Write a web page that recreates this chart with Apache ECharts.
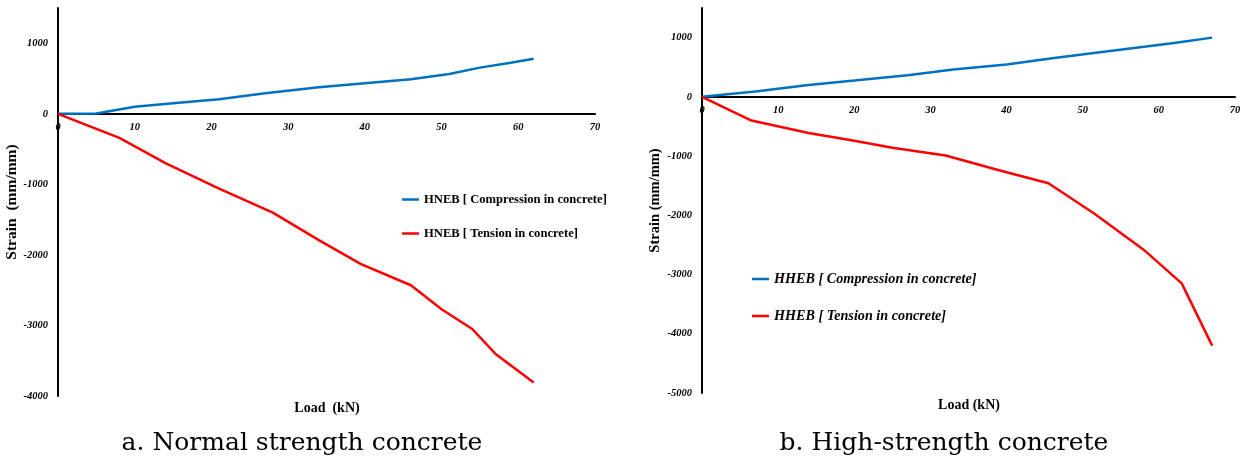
<!DOCTYPE html>
<html>
<head>
<meta charset="utf-8">
<script src="https://cdn.jsdelivr.net/npm/echarts@6/dist/echarts.min.js"></script>
<style>html,body{margin:0;padding:0;background:#fff}#c{width:1243px;height:461px}</style>
</head>
<body>
<div id="c"></div>
<script>
// Load (kN) vs Strain (mm/mm)
const normalCompression = [[0,0],[5,5],[10,100],[15,150],[21,205],[27,290],[34,375],[40,435],[46,490],[51,565],[55,655],[59,725],[62,780]];
const normalTension = [[0,0],[8,-340],[14,-700],[21,-1060],[28,-1400],[34,-1790],[39.5,-2130],[46,-2430],[50,-2770],[54,-3050],[57,-3400],[62,-3810]];
const highCompression = [[0,0],[7,90],[14,200],[20,275],[27,365],[33,460],[40,545],[46,650],[52,750],[57,830],[62,910],[67,1000]];
const highTension = [[0,0],[6.5,-400],[14,-610],[20,-740],[25,-860],[32,-990],[39,-1240],[45.5,-1460],[51.5,-1970],[58,-2580],[63,-3150],[67,-4200]];
const xTicks = [0,10,20,30,40,50,60,70];
const yTicksNormal = [-4000,-3000,-2000,-1000,0,1000];
const yTicksHigh = [-5000,-4000,-3000,-2000,-1000,0,1000];
const names = {
  nc: 'HNEB [ Compression in concrete]',
  nt: 'HNEB [ Tension in concrete]',
  hc: 'HHEB [ Compression in concrete]',
  ht: 'HHEB [ Tension in concrete]'
};
const subtitles = ['a. Normal strength concrete', 'b. High-strength concrete'];
const xNames = ['Load  (kN)', 'Load (kN)'];
const yNames = ['Strain  (mm/mm)', 'Strain (mm/mm)'];

const serif = 'Liberation Serif';
const blue = '#0070C0', red = '#FF0000';
const tickLabel = {fontFamily: serif, fontStyle: 'italic', fontWeight: 'bold', fontSize: 10.5, color: '#000', formatter: v => String(v)};

function xAxis(gi, offset) {
  return {type: 'value', gridIndex: gi, min: 0, max: 70, interval: 10, position: 'bottom', offset: offset,
    axisLine: {show: true, onZero: false, lineStyle: {color: '#000', width: 2}},
    axisTick: {show: false}, splitLine: {show: false},
    axisLabel: Object.assign({margin: 8, customValues: xTicks}, tickLabel)};
}
function yAxis(gi, min, ticks, name, gap, size) {
  return {type: 'value', gridIndex: gi, min: min, max: 1500, interval: 500,
    axisLine: {show: true, onZero: false, lineStyle: {color: '#000', width: 2}},
    axisTick: {show: false}, splitLine: {show: false},
    axisLabel: Object.assign({margin: 10, customValues: ticks}, tickLabel),
    name: name, nameLocation: 'middle', nameGap: gap, nameRotate: 90,
    nameTextStyle: {fontFamily: serif, fontWeight: 'bold', fontSize: size, color: '#000'}};
}
function line(name, data, color, gi) {
  return {type: 'line', name: name, data: data, xAxisIndex: gi, yAxisIndex: gi,
    symbol: 'none', lineStyle: {color: color, width: 2.5}, itemStyle: {color: color}};
}
function legend(name, left, top, italic, size) {
  return {data: [name], left: left, top: top, icon: 'rect', itemWidth: 17, itemHeight: 2.5,
    textStyle: {fontFamily: serif, fontWeight: 'bold', fontStyle: italic ? 'italic' : 'normal', fontSize: size, color: '#000'}};
}

const chart = echarts.init(document.getElementById('c'), null, {renderer: 'canvas'});
chart.setOption({
  animation: false,
  backgroundColor: '#fff',
  grid: [
    {left: 58, top: 8, width: 537, height: 388, outerBoundsMode: 'none'},
    {left: 702, top: 8, width: 533, height: 385, outerBoundsMode: 'none'}
  ],
  xAxis: [xAxis(0, -282), xAxis(1, -296)],
  yAxis: [yAxis(0, -4000, yTicksNormal, yNames[0], 38, 15.5), yAxis(1, -5000, yTicksHigh, yNames[1], 39, 14.5)],
  legend: [
    legend(names.nc, 397, 188, false, 12.6),
    legend(names.nt, 397, 222, false, 12.6),
    legend(names.hc, 747, 267, true, 14.2),
    legend(names.ht, 747, 304, true, 14.2)
  ],
  series: [
    line(names.nc, normalCompression, blue, 0),
    line(names.nt, normalTension, red, 0),
    line(names.hc, highCompression, blue, 1),
    line(names.ht, highTension, red, 1)
  ],
  graphic: [
    {type: 'text', x: 327, y: 408, style: {text: xNames[0], font: 'bold 14px "Liberation Serif"', fill: '#000', textAlign: 'center', textVerticalAlign: 'middle'}},
    {type: 'text', x: 969, y: 405, style: {text: xNames[1], font: 'bold 14px "Liberation Serif"', fill: '#000', textAlign: 'center', textVerticalAlign: 'middle'}},
    {type: 'text', x: 302, y: 443, style: {text: subtitles[0], font: '25px "DejaVu Serif"', fill: '#000', textAlign: 'center', textVerticalAlign: 'middle'}},
    {type: 'text', x: 944, y: 443, style: {text: subtitles[1], font: '25px "DejaVu Serif"', fill: '#000', textAlign: 'center', textVerticalAlign: 'middle'}}
  ]
});
</script>
</body>
</html>
